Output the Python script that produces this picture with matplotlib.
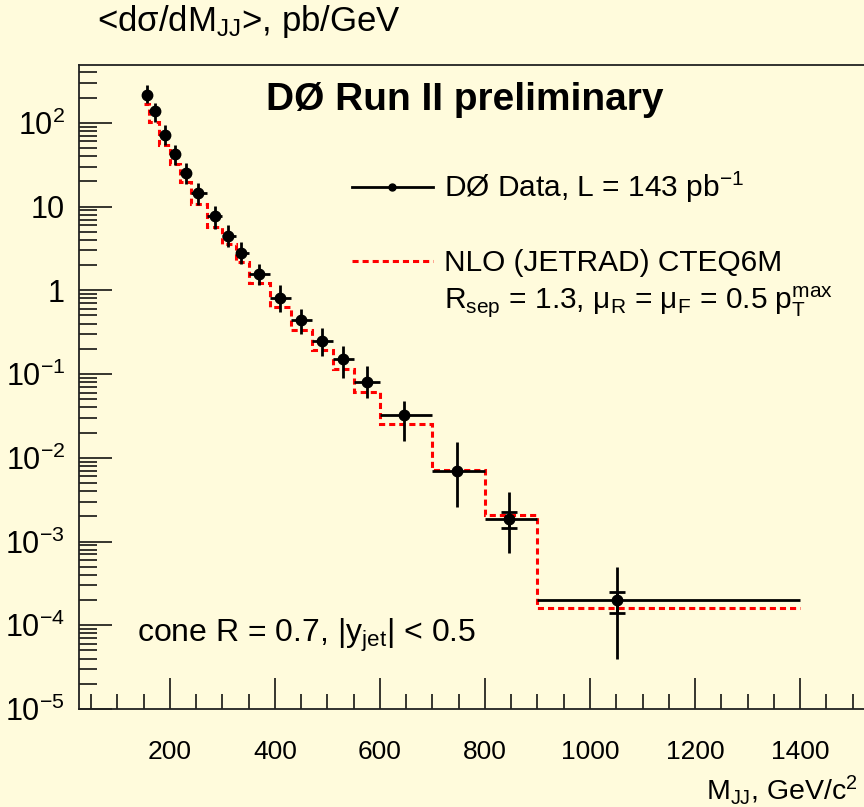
import numpy as np
import matplotlib
matplotlib.use('Agg')
import matplotlib.pyplot as plt
from matplotlib.lines import Line2D
from matplotlib.ticker import FixedLocator, LogLocator, NullFormatter, FuncFormatter, MultipleLocator

plt.rcParams['font.family'] = ['Liberation Sans', 'DejaVu Sans']
plt.rcParams['mathtext.fontset'] = 'custom'
plt.rcParams['mathtext.rm'] = 'Liberation Sans'
plt.rcParams['mathtext.it'] = 'Liberation Sans:italic'
plt.rcParams['mathtext.bf'] = 'Liberation Sans:bold'

# ---------------- data ----------------
bin_edges = [150, 160, 180, 200, 220, 240, 270, 300, 325, 350, 390,
             430, 470, 510, 550, 600, 700, 800, 900, 1400]
data_x = [155.6, 171, 191, 210, 230, 254, 285, 311, 336, 370,
          410, 450, 490, 530, 575, 646, 746, 846, 1051]
data_y = [214, 138, 72, 41.9, 25.2, 14.6, 7.66, 4.45, 2.79, 1.58,
          0.807, 0.436, 0.247, 0.152, 0.0813, 0.0325, 0.00702, 0.00185, 0.000199]
tot_hi = [282, 171, 93.8, 54.1, 33.3, 19.1, 10.1, 6.02, 3.78, 2.08,
          1.15, 0.603, 0.357, 0.219, 0.126, 0.0482, 0.0156, 0.00385, 0.00049]
tot_lo = [171, 103, 54.1, 31.2, 18.8, 10.4, 5.46, 3.29, 2.08, 1.15,
          0.548, 0.303, 0.162, 0.0902, 0.0519, 0.0157, 0.0026, 0.000726, 0.0000392]
stat_idx = [17, 18]
stat_hi = [0.00226, 0.00025]
stat_lo = [0.00145, 0.000139]
nlo_y = [168, 101, 54, 32, 19.4, 10.6, 5.7, 3.6, 2.17, 1.22,
         0.63, 0.338, 0.191, 0.115, 0.0605, 0.0252, 0.00715, 0.00207, 0.00016]

y_ticks = [1e-5, 1e-4, 1e-3, 1e-2, 1e-1, 1, 10, 100]
x_ticks = [200, 400, 600, 800, 1000, 1200, 1400]

# ---------------- figure ----------------
W, H = 864, 807
bg = '#fffbdc'
fig = plt.figure(figsize=(W / 100, H / 100), dpi=100, facecolor=bg)

ax_l, ax_r, ax_t, ax_b = 79, 868, 65, 709
ax = fig.add_axes([ax_l / W, 1 - ax_b / H, (ax_r - ax_l) / W, (ax_b - ax_t) / H])
ax.set_facecolor(bg)
ax.set_yscale('log')
ax.set_xlim(26.7, 1529.5)
ax.set_ylim(1e-5, 490)

# NLO theory step
ax.stairs(nlo_y, bin_edges, baseline=None, color='#ff0000', lw=2.2,
          linestyle=(0, (2.0, 1.3)), zorder=2)

# data
dx = np.array(data_x)
dy = np.array(data_y)
edges = np.array(bin_edges)
xerr = [dx - edges[:-1], edges[1:] - dx]
yerr = [dy - np.array(tot_lo), np.array(tot_hi) - dy]
ax.errorbar(dx, dy, xerr=xerr, yerr=yerr, fmt='o', color='black', ms=7.5,
            elinewidth=2.0, capsize=0, zorder=3)
sx = dx[stat_idx]
sy = dy[stat_idx]
ax.errorbar(sx, sy, yerr=[sy - np.array(stat_lo), np.array(stat_hi) - sy],
            fmt='none', ecolor='black', elinewidth=2.0, capsize=5.5,
            capthick=2.0, zorder=3)

# axes styling
ax.spines['right'].set_visible(False)
for s in ['left', 'bottom', 'top']:
    ax.spines[s].set_linewidth(1.3)
    ax.spines[s].set_color('#222222')

def yfmt(v, pos):
    e = int(round(np.log10(v)))
    if e == 0:
        return '1'
    if e == 1:
        return '10'
    return r'$\mathregular{10^{%d}}$' % e

ax.yaxis.set_major_locator(FixedLocator(y_ticks))
ax.yaxis.set_major_formatter(FuncFormatter(yfmt))
ax.yaxis.set_minor_locator(LogLocator(base=10, subs=np.arange(2, 10), numticks=20))
ax.yaxis.set_minor_formatter(NullFormatter())
ax.xaxis.set_major_locator(FixedLocator(x_ticks))
ax.xaxis.set_minor_locator(MultipleLocator(50))
ax.tick_params(axis='y', which='major', direction='in', length=24, width=1.1,
               labelsize=22, pad=10, colors='black')
ax.tick_params(axis='y', which='minor', direction='in', length=13, width=1.1)
ax.tick_params(axis='x', which='major', direction='in', length=22, width=1.1,
               labelsize=19, pad=22)
ax.tick_params(axis='x', which='minor', direction='in', length=11, width=1.1)

# texts
def fx(x):
    return x / W

def fy(y):
    return 1 - y / H

fig.text(fx(97), fy(22), r'<dσ/dM$_{\mathregular{JJ}}$>, pb/GeV', fontsize=25,
         ha='left', va='center')
fig.text(fx(465), fy(100), 'DØ Run II preliminary', fontsize=28,
         fontweight='bold', ha='center', va='center')
fig.text(fx(137), fy(635), r'cone R = 0.7, |y$_{\mathregular{jet}}$| < 0.5',
         fontsize=23, ha='left', va='center')
fig.text(fx(706), fy(790), r'M$_{\mathregular{JJ}}$, GeV/c$^{\mathregular{2}}$',
         fontsize=20.5, ha='left', va='center')

h_data = Line2D([], [], color='black', lw=2.0, marker='o', ms=5)
h_blank = Line2D([], [], color='none')
h_nlo = Line2D([], [], color='#ff0000', lw=2.2, linestyle=(0, (2.0, 1.3)))
labels = [r'DØ Data, L = 143 pb$^{\mathregular{-1}}$', ' ',
          'NLO (JETRAD) CTEQ6M',
          r'R$_{\mathregular{sep}}$ = 1.3, μ$_{\mathregular{R}}$ = μ$_{\mathregular{F}}$ = 0.5 p$_{\mathregular{T}}^{\mathregular{max}}$']
ax.legend([h_data, h_blank, h_nlo, h_blank], labels, loc='upper left',
          bbox_to_anchor=(fx(352), fy(170)), bbox_transform=fig.transFigure,
          frameon=False, fontsize=21.5, handlelength=2.7, handletextpad=0.37,
          labelspacing=0.27, borderpad=0, borderaxespad=0)

fig.savefig('out.png', dpi=100, facecolor=bg)
